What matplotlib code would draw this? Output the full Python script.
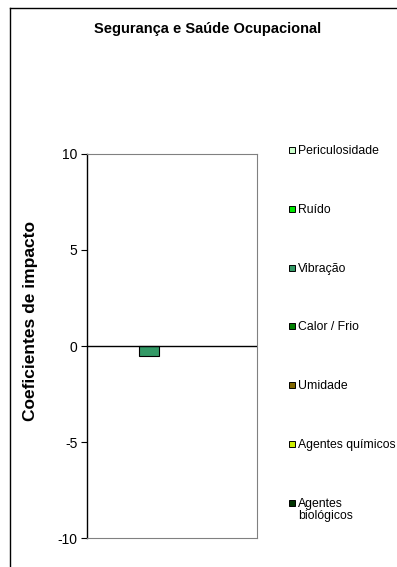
import matplotlib
matplotlib.use("Agg")
import matplotlib.pyplot as plt
from matplotlib.patches import Rectangle
from matplotlib.lines import Line2D

plt.rcParams['font.family'] = ['Liberation Sans', 'DejaVu Sans']
plt.rcParams['axes.unicode_minus'] = False

# Impact coefficients, one value per indicator (single category)
series_names = ['Periculosidade', 'Ruído', 'Vibração', 'Calor / Frio',
                'Umidade', 'Agentes químicos', 'Agentes\nbiológicos']
series_values = [0, 0, -0.5, 0, 0, 0, 0]
series_colors = ['#ccffcc', '#00e600', '#339966', '#008000',
                 '#806600', '#ccee00', '#003300']
y_ticks = [-10, -5, 0, 5, 10]
title = 'Segurança e Saúde Ocupacional'
y_label = 'Coeficientes de impacto'

W, H = 397, 567
fig = plt.figure(figsize=(W / 100, H / 100), dpi=100)
fig.patch.set_facecolor('white')

# outer chart-area frame (left and top edges)
fig.add_artist(Line2D([10 / W, 10 / W], [0, 1 - 8 / H], color='black',
                      lw=1.0, transform=fig.transFigure))
fig.add_artist(Line2D([10 / W, 1], [1 - 8 / H, 1 - 8 / H], color='black',
                      lw=1.0, transform=fig.transFigure))

ax = fig.add_axes([87 / W, 1 - 538 / H, 170 / W, 384 / H])
ax.set_facecolor('white')

# clustered bars: 7 series in one category, gap width 150%
n = len(series_values)
bar_w = 1 / (n + 1.5)
for i, (v, c) in enumerate(zip(series_values, series_colors)):
    if v == 0:
        continue
    ax.bar((i - (n - 1) / 2) * bar_w - 0.015, v, width=bar_w, color=c,
           edgecolor='black', linewidth=0.8, zorder=3)

ax.axhline(0, color='black', lw=1.0, zorder=4)
ax.set_xlim(-0.5, 0.5)
ax.set_ylim(-10, 10)
ax.set_yticks(y_ticks)
ax.set_xticks([])
ax.tick_params(axis='y', direction='out', length=4, width=0.8,
               labelsize=10, pad=3)

for side in ['top', 'right', 'bottom']:
    ax.spines[side].set_color('#808080')
    ax.spines[side].set_linewidth(0.8)
ax.spines['left'].set_color('black')
ax.spines['left'].set_linewidth(1.0)

fig.text(208 / W, 1 - 29 / H, title, ha='center', va='center',
         fontsize=10.5, fontweight='bold')
fig.text(31 / W, 1 - 321 / H, y_label, ha='center', va='center',
         rotation=90, fontsize=12.5, fontweight='bold')

# legend drawn as a column of swatches
for i, (name, c) in enumerate(zip(series_names, series_colors)):
    yc = 1 - (150 + i * 58.8) / H
    fig.add_artist(Rectangle((289 / W, yc - 3 / H), 6 / W, 6 / H,
                             facecolor=c, edgecolor='black', lw=0.7,
                             transform=fig.transFigure))
    fig.text(298 / W, yc + 5 / H, name, ha='left', va='top', fontsize=8.8,
             linespacing=1.05)

fig.savefig('out.png', dpi=100, facecolor='white')
